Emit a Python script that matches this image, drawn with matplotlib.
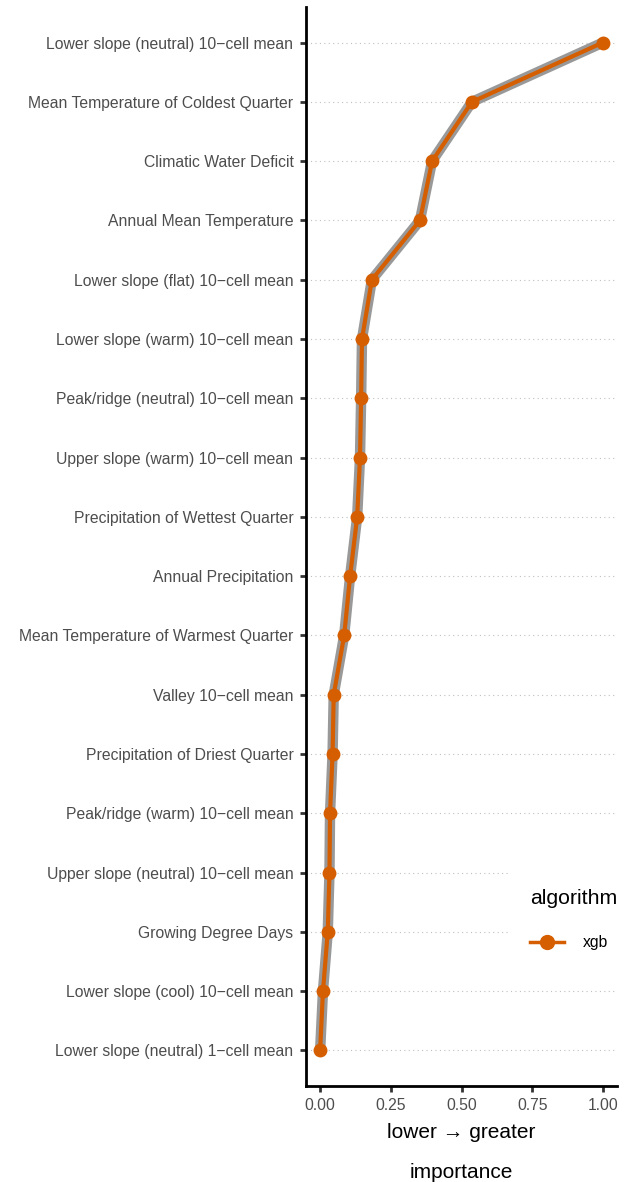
import matplotlib

matplotlib.use("Agg")

import matplotlib.pyplot as plt
from matplotlib.lines import Line2D
import numpy as np

plt.rcParams["font.family"] = ["Liberation Sans", "DejaVu Sans"]

features = [
    "Lower slope (neutral) 10\u2212cell mean",
    "Mean Temperature of Coldest Quarter",
    "Climatic Water Deficit",
    "Annual Mean Temperature",
    "Lower slope (flat) 10\u2212cell mean",
    "Lower slope (warm) 10\u2212cell mean",
    "Peak/ridge (neutral) 10\u2212cell mean",
    "Upper slope (warm) 10\u2212cell mean",
    "Precipitation of Wettest Quarter",
    "Annual Precipitation",
    "Mean Temperature of Warmest Quarter",
    "Valley 10\u2212cell mean",
    "Precipitation of Driest Quarter",
    "Peak/ridge (warm) 10\u2212cell mean",
    "Upper slope (neutral) 10\u2212cell mean",
    "Growing Degree Days",
    "Lower slope (cool) 10\u2212cell mean",
    "Lower slope (neutral) 1\u2212cell mean",
]
importance = [1.00, 0.537, 0.396, 0.353, 0.183, 0.148, 0.145, 0.141, 0.131,
              0.106, 0.085, 0.048, 0.044, 0.035, 0.033, 0.027, 0.010, 0.0]
xticks = [0.0, 0.25, 0.5, 0.75, 1.0]
xticklabels = ["0.00", "0.25", "0.50", "0.75", "1.00"]

ORANGE = "#D55E00"
GREY_TXT = "#4D4D4D"

fig = plt.figure(figsize=(6.29, 11.82), dpi=100)
W, H = 629, 1182
ax = fig.add_axes([306 / W, 1 - 1086 / H, (617 - 306) / W, (1086 - 7) / H])

n = len(features)
y = np.arange(n)[::-1]

for yy in y:
    ax.axhline(yy, color="#BFBFBF", lw=0.8, ls=(0, (1, 3)), zorder=0)

ax.plot(importance, y, color="#999999", lw=7.5, solid_capstyle="round",
        solid_joinstyle="round", zorder=2)
ax.plot(importance, y, color=ORANGE, lw=3, solid_joinstyle="round", zorder=3)
ax.scatter(importance, y, s=100, color=ORANGE, zorder=4, linewidths=0)

ax.set_xlim(-0.05, 1.05)
ax.set_ylim(-0.6, n - 1 + 0.6)
ax.set_yticks(y)
ax.set_yticklabels(features, fontsize=11.3, color=GREY_TXT)
ax.set_xticks(xticks)
ax.set_xticklabels(xticklabels, fontsize=11.3, color=GREY_TXT)

for side in ["top", "right"]:
    ax.spines[side].set_visible(False)
for side in ["left", "bottom"]:
    ax.spines[side].set_linewidth(2.0)
    ax.spines[side].set_color("black")
ax.tick_params(axis="both", length=4, width=2, color="#333333", pad=5)

# x title in two pieces, as in the original layout
cx = (306 + 617) / 2 / W
fig.text(cx, 1 - 1133 / H, "lower \u2192 greater", fontsize=15,
         ha="center", va="center")
fig.text(cx, 1 - 1172 / H, "importance", fontsize=15, ha="center", va="center")

handle = Line2D([], [], color=ORANGE, lw=2.5, marker="o", markersize=10)
leg = ax.legend([handle], ["xgb"], title="algorithm", loc="center left",
                bbox_to_anchor=((502 - 306) / (617 - 306), 0.154),
                frameon=True, fontsize=11.3, title_fontsize=15.3,
                handlelength=2.12, borderpad=1.3, labelspacing=1.7,
                handletextpad=1.2)
leg.get_frame().set_edgecolor("white")
leg.get_frame().set_facecolor("white")
leg.get_frame().set_alpha(1.0)
leg._legend_box.align = "left"
leg.set_zorder(5)

fig.savefig("out.png", dpi=100)
